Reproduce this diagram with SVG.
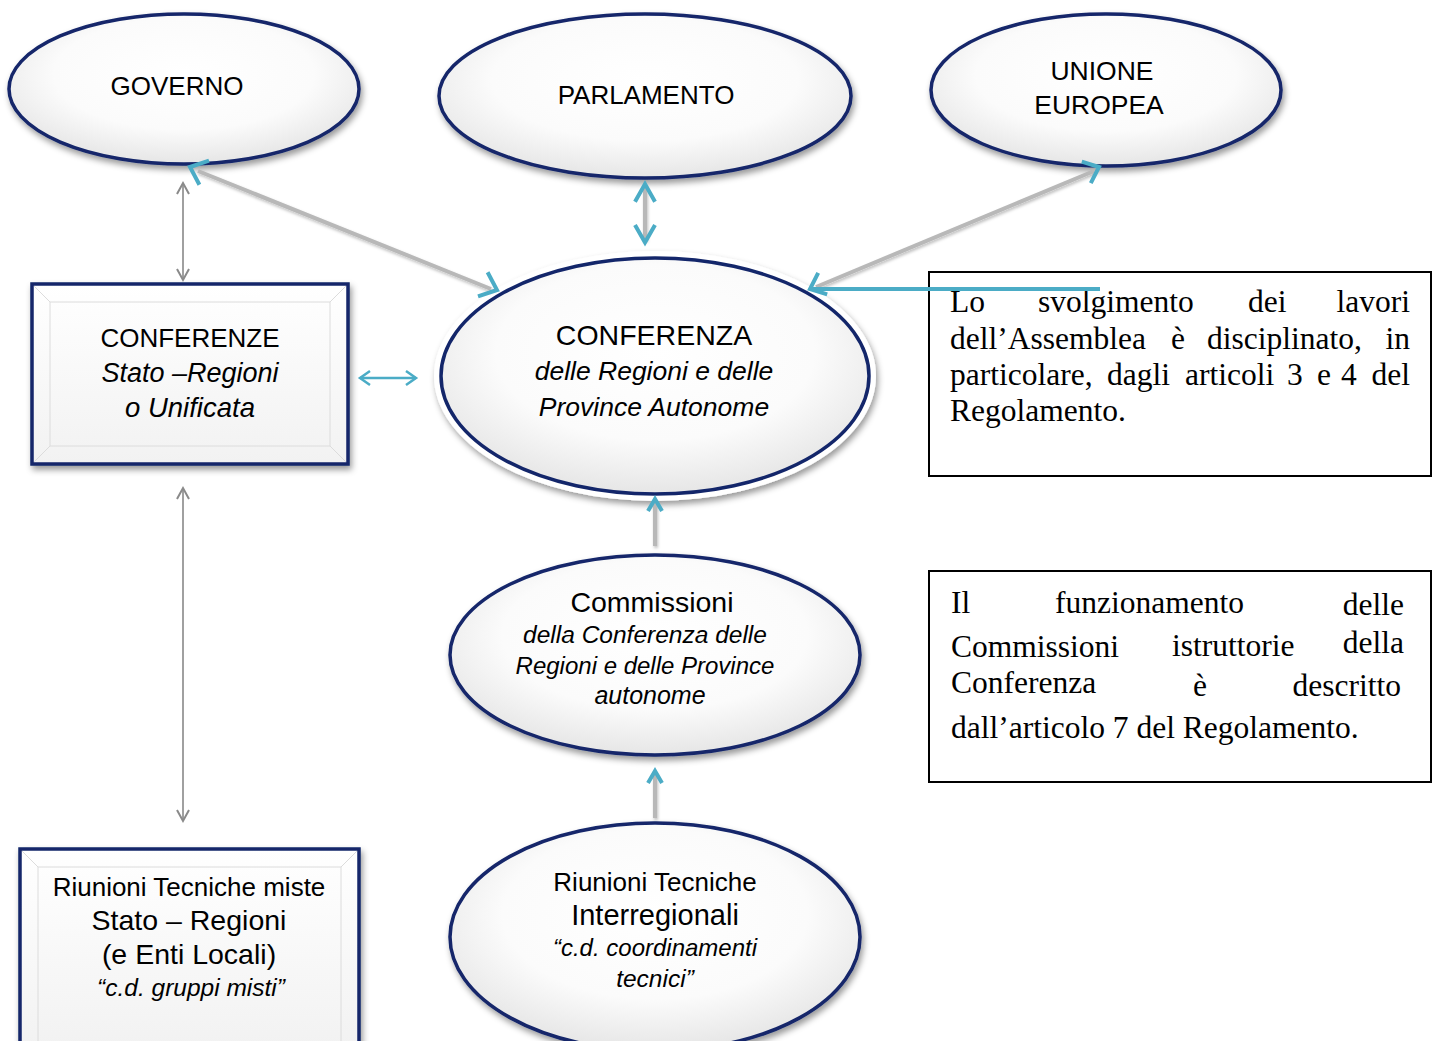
<svg xmlns="http://www.w3.org/2000/svg" width="1438" height="1041" viewBox="0 0 1438 1041">
<defs>
  <radialGradient id="eg" cx="50%" cy="40%" r="62%">
    <stop offset="0" stop-color="#ffffff"/>
    <stop offset="0.6" stop-color="#fbfbfb"/>
    <stop offset="1" stop-color="#e4e4e4"/>
  </radialGradient>
  <linearGradient id="rg" x1="0" y1="0" x2="0" y2="1">
    <stop offset="0" stop-color="#ffffff"/>
    <stop offset="1" stop-color="#f2f2f2"/>
  </linearGradient>
  <filter id="sh" x="-10%" y="-10%" width="125%" height="130%">
    <feDropShadow dx="2" dy="4" stdDeviation="3" flood-color="#000" flood-opacity="0.4"/>
  </filter>
  <filter id="lsh" filterUnits="userSpaceOnUse" x="0" y="0" width="1438" height="1041">
    <feDropShadow dx="1" dy="2" stdDeviation="1.5" flood-color="#000" flood-opacity="0.25"/>
  </filter>
</defs>
<style>
  .ell{fill:url(#eg);stroke:#13266a;stroke-width:3.5}
  .rct{fill:url(#rg);stroke:#13266a;stroke-width:3.5}
  .bev{fill:none;stroke:#dcdcdc;stroke-width:1}
  .sans{font-family:"Liberation Sans",Arial,sans-serif;fill:#000}
  .ser{font-family:"Liberation Serif","Times New Roman",serif;fill:#000;font-size:31.5px}
  .it{font-style:italic}
  .gl{stroke:#b8b8b8;stroke-width:4;fill:none}
  .gt{stroke:#a0a0a0;stroke-width:2;fill:none}
  .gh{stroke:#8a8a8a;stroke-width:2;fill:none}
  .th{stroke:#4bacc6;stroke-width:4;fill:none;stroke-linecap:butt}
  .tt{stroke:#4bacc6;stroke-width:2.5;fill:none}
  .box{fill:#fff;stroke:#000;stroke-width:2}
</style>

<g id="governo">
  <ellipse class="ell" filter="url(#sh)" cx="184" cy="89" rx="175" ry="75"/>
  <text class="sans" x="177" y="95" font-size="26" text-anchor="middle">GOVERNO</text>
</g>

<g id="parlamento">
  <ellipse class="ell" filter="url(#sh)" cx="645" cy="96" rx="206" ry="82"/>
  <text class="sans" x="646" y="104" font-size="26" text-anchor="middle">PARLAMENTO</text>
</g>

<g id="unione-europea">
  <ellipse class="ell" filter="url(#sh)" cx="1106" cy="90" rx="175" ry="76"/>
  <text class="sans" x="1102" y="80" font-size="26.5" text-anchor="middle">UNIONE</text>
  <text class="sans" x="1099" y="114" font-size="26.5" text-anchor="middle">EUROPEA</text>
</g>

<g id="conferenza">
  <ellipse cx="655" cy="376" rx="221" ry="125" fill="#ffffff" filter="url(#sh)"/>
  <ellipse class="ell" cx="655" cy="376" rx="214" ry="118"/>
  <text class="sans" x="654" y="345" font-size="28.5" text-anchor="middle">CONFERENZA</text>
  <text class="sans it" x="654" y="380" font-size="26.5" text-anchor="middle">delle Regioni e delle</text>
  <text class="sans it" x="654" y="416" font-size="26.5" text-anchor="middle">Province Autonome</text>
</g>

<g id="conferenze">
  <rect class="rct" filter="url(#sh)" x="32" y="284" width="316" height="180"/>
  <polyline class="bev" points="34,286 50,302 330,302 346,286"/>
  <polyline class="bev" points="34,462 50,446 330,446 346,462"/>
  <line class="bev" x1="50" y1="302" x2="50" y2="446"/>
  <line class="bev" x1="330" y1="302" x2="330" y2="446"/>
  <text class="sans" x="190" y="347" font-size="26" text-anchor="middle">CONFERENZE</text>
  <text class="sans it" x="190" y="382" font-size="27" text-anchor="middle">Stato –Regioni</text>
  <text class="sans it" x="190" y="417" font-size="27.5" text-anchor="middle">o Unificata</text>
</g>

<g id="commissioni">
  <ellipse class="ell" filter="url(#sh)" cx="655" cy="655" rx="205" ry="100"/>
  <text class="sans" x="652" y="612" font-size="28.5" text-anchor="middle">Commissioni</text>
  <text class="sans it" x="645" y="643" font-size="24.5" text-anchor="middle">della Conferenza delle</text>
  <text class="sans it" x="645" y="674" font-size="24" text-anchor="middle">Regioni e delle Province</text>
  <text class="sans it" x="650" y="704" font-size="25" text-anchor="middle">autonome</text>
</g>

<g id="riunioni-interregionali">
  <ellipse class="ell" filter="url(#sh)" cx="655" cy="937" rx="205" ry="114"/>
  <text class="sans" x="655" y="891" font-size="26" text-anchor="middle">Riunioni Tecniche</text>
  <text class="sans" x="655" y="925" font-size="29" text-anchor="middle">Interregionali</text>
  <text class="sans it" x="655" y="956" font-size="24" text-anchor="middle">“c.d. coordinamenti</text>
  <text class="sans it" x="655" y="987" font-size="24.5" text-anchor="middle">tecnici”</text>
</g>

<g id="riunioni-miste">
  <rect class="rct" filter="url(#sh)" x="20" y="849" width="339" height="200"/>
  <polyline class="bev" points="22,851 38,867 341,867 357,851"/>
  <line class="bev" x1="38" y1="867" x2="38" y2="1041"/>
  <line class="bev" x1="341" y1="867" x2="341" y2="1041"/>
  <text class="sans" x="189" y="896" font-size="26" text-anchor="middle">Riunioni Tecniche miste</text>
  <text class="sans" x="189" y="930" font-size="28.5" text-anchor="middle">Stato – Regioni</text>
  <text class="sans" x="189" y="964" font-size="28.5" text-anchor="middle">(e Enti Locali)</text>
  <text class="sans it" x="191" y="996" font-size="24.5" text-anchor="middle">“c.d. gruppi misti”</text>
</g>

<g id="nota-assemblea">
  <rect class="box" x="929" y="272" width="502" height="204"/>
  <text class="ser" y="312"><tspan x="950">Lo</tspan><tspan x="1038">svolgimento</tspan><tspan x="1248">dei</tspan></text>
  <text class="ser" x="1410" y="312" text-anchor="end">lavori</text>
  <text class="ser" y="348.5"><tspan x="950">dell’Assemblea</tspan><tspan x="1171">è</tspan><tspan x="1207">disciplinato,</tspan></text>
  <text class="ser" x="1410" y="348.5" text-anchor="end">in</text>
  <text class="ser" y="385"><tspan x="950">particolare,</tspan><tspan x="1107">dagli</tspan><tspan x="1185">articoli</tspan><tspan x="1287">3</tspan><tspan x="1317">e</tspan><tspan x="1341">4</tspan></text>
  <text class="ser" x="1410" y="385" text-anchor="end">del</text>
  <text class="ser" x="950" y="421">Regolamento.</text>
</g>

<g id="nota-commissioni">
  <rect class="box" x="929" y="571" width="502" height="211"/>
  <text class="ser" x="951" y="613">Il</text>
  <text class="ser" x="1055" y="613">funzionamento</text>
  <text class="ser" x="1404" y="615" text-anchor="end">delle</text>
  <text class="ser" x="951" y="657">Commissioni</text>
  <text class="ser" x="1172" y="656">istruttorie</text>
  <text class="ser" x="1404" y="653" text-anchor="end">della</text>
  <text class="ser" x="951" y="693">Conferenza</text>
  <text class="ser" x="1193" y="696">è</text>
  <text class="ser" x="1401" y="696" text-anchor="end">descritto</text>
  <text class="ser" x="951" y="738">dall’articolo 7 del Regolamento.</text>
</g>

<g id="connectors">
  <!-- GOVERNO <-> CONFERENZE -->
  <line class="gt" x1="183" y1="183" x2="183" y2="280"/>
  <polyline class="gh" points="177,194 183,183 189,194"/>
  <polyline class="gh" points="177,269 183,280 189,269"/>
  <!-- CONFERENZE <-> Riunioni miste -->
  <line class="gt" x1="183" y1="488" x2="183" y2="821"/>
  <polyline class="gh" points="177,499 183,488 189,499"/>
  <polyline class="gh" points="177,810 183,821 189,810"/>
  <!-- GOVERNO <-> CONFERENZA -->
  <line class="gl" filter="url(#lsh)" x1="198" y1="171" x2="491" y2="289"/>
  <polyline class="th" points="199.4,184.7 190,167 209,160.7"/>
  <polyline class="th" points="478,296.3 497,290 487.6,272.3"/>
  <!-- PARLAMENTO <-> CONFERENZA -->
  <line class="gl" filter="url(#lsh)" x1="645" y1="186" x2="645" y2="240"/>
  <polyline class="th" points="635,201.7 645,184 655,201.7"/>
  <polyline class="th" points="635,225 645,242.5 655,225"/>
  <!-- UNIONE EUROPEA <-> CONFERENZA -->
  <line class="gl" filter="url(#lsh)" x1="1094" y1="171" x2="816" y2="287"/>
  <polyline class="th" points="1081.8,161.7 1099,167 1090.8,183.1"/>
  <polyline class="th" points="818.2,272.9 810,289 827.2,294.3"/>
  <!-- text box -> CONFERENZA -->
  <line class="th" x1="1100" y1="289" x2="812" y2="289"/>
  <!-- CONFERENZE <-> CONFERENZA -->
  <line class="tt" x1="360" y1="378" x2="416" y2="378"/>
  <polyline class="tt" points="370,371 360,378 370,385"/>
  <polyline class="tt" points="406,371 416,378 406,385"/>
  <!-- Commissioni -> CONFERENZA -->
  <line class="gl" filter="url(#lsh)" x1="655" y1="503" x2="655" y2="546"/>
  <polyline class="th" points="648,511 655,499 662,511"/>
  <!-- Riunioni Interregionali -> Commissioni -->
  <line class="gl" filter="url(#lsh)" x1="655" y1="773" x2="655" y2="818"/>
  <polyline class="th" points="648,783 655,771 662,783"/>
</g>
</svg>
